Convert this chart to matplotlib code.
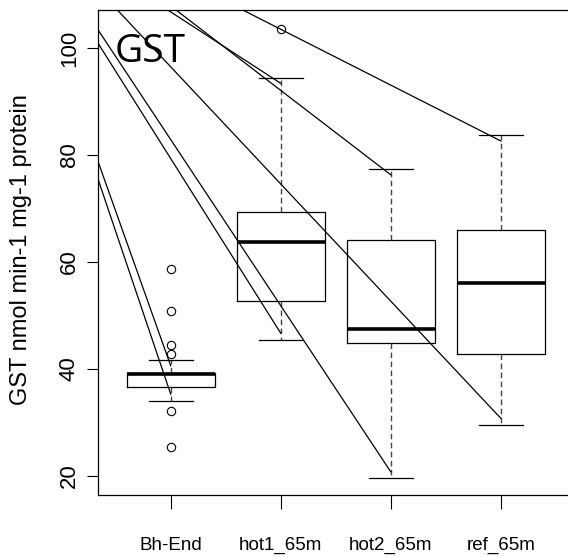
import matplotlib
matplotlib.use("Agg")
import matplotlib.pyplot as plt

# boxplot summary
groups = ['Bh-End', 'hot1_65m', 'hot2_65m', 'ref_65m']
q1 = [36.7, 52.65, 44.8, 42.75]
med = [39.0, 63.8, 47.4, 56.1]
q3 = [39.3, 69.3, 64.2, 65.9]
whislo = [34.1, 45.35, 19.7, 29.6]
whishi = [41.6, 94.45, 77.4, 83.7]
fliers = [[58.6, 50.8, 44.5, 42.8, 32.1, 25.5], [103.55], [], []]

# the stray straight lines (start -> end, in data units)
line_x0 = [1.655, 1.048, 0.973, 0.515, 0.339, 0.339, 0.339, 0.339]
line_y0 = [107.1, 107.1, 107.1, 107.1, 103.4, 100.9, 75.5, 78.8]
line_x1 = [4.003, 3.0, 2.0, 4.0, 3.0, 2.0, 1.0, 1.0]
line_y1 = [82.6, 76.3, 93.4, 30.8, 20.8, 46.7, 35.3, 40.6]

fig = plt.figure(figsize=(5.68, 5.57), dpi=100)
ax = fig.add_axes([98/568, 62/557, 475.4/568, 485/557])

stats = []
for i in range(len(groups)):
    stats.append(dict(med=med[i], q1=q1[i], q3=q3[i], whislo=whislo[i],
                      whishi=whishi[i], fliers=fliers[i], label=groups[i]))

ax.bxp(stats, positions=range(1, 5), widths=0.8, capwidths=0.4,
       patch_artist=False,
       boxprops=dict(color='black', lw=0.9),
       medianprops=dict(color='black', lw=2.6, solid_capstyle='butt'),
       whiskerprops=dict(color='#444444', lw=1.0, linestyle=(0, (4, 2.5))),
       capprops=dict(color='black', lw=0.9),
       flierprops=dict(marker='o', markerfacecolor='none', markeredgecolor='black',
                       markersize=6, markeredgewidth=0.8))

for x0, y0, x1, y1 in zip(line_x0, line_y0, line_x1, line_y1):
    ax.plot([x0, x1], [y0, y1], color='black', lw=0.9)

ax.set_xlim(0.339, 4.661)
ax.set_ylim(16.45, 107.1)
ax.set_yticks([20, 40, 60, 80, 100])
ax.set_xticks(range(1, 5))
ax.set_xticklabels(groups, family='Liberation Sans', fontsize=13.5)
for lab in ax.get_yticklabels():
    lab.set_rotation(90)
    lab.set_va('center')
    lab.set_family('Liberation Sans')
    lab.set_fontsize(16)
ax.tick_params(axis='y', length=8, width=0.8, pad=5)
ax.tick_params(axis='x', length=10, width=0.8, pad=20)
for s in ax.spines.values():
    s.set_linewidth(0.9)

ax.set_ylabel('GST nmol min-1 mg-1 protein', family='Liberation Sans', fontsize=17, va='center')
ax.yaxis.set_label_coords(-0.162, 0.507)

ax.text(0.036, 0.893, 'GST', transform=ax.transAxes, family='Open Sans', fontsize=28,
        ha='left', va='baseline')

fig.savefig('out.png', dpi=100)
